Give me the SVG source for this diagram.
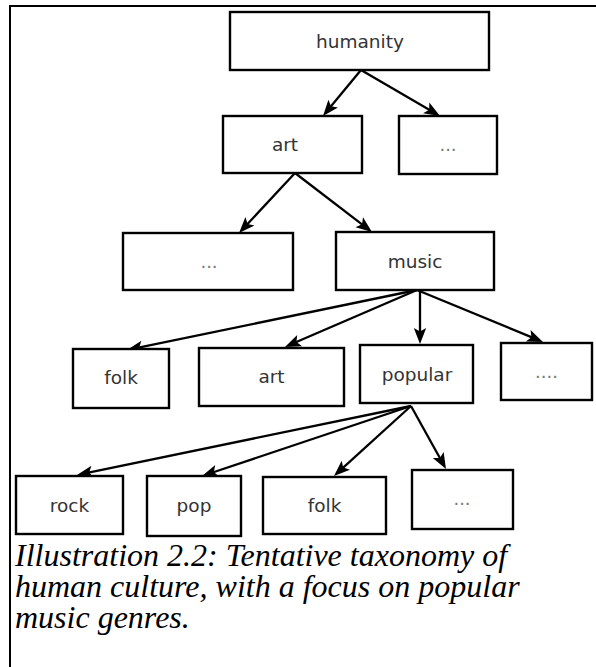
<svg xmlns="http://www.w3.org/2000/svg" width="596" height="667" viewBox="0 0 596 667">
<style>
.box{fill:#fff;stroke:#000;stroke-width:2.4}
.lbl{font-family:"DejaVu Sans",sans-serif;font-size:18.5px;fill:#333;text-anchor:middle}
.dots{font-family:"DejaVu Sans",sans-serif;font-size:18px;fill:#777;text-anchor:middle}
.edge{stroke:#000;stroke-width:2.3;fill:none;marker-end:url(#ah)}
.cap{font-family:"Liberation Serif","Times New Roman",serif;font-style:italic;font-size:32px;fill:#000}
</style>
<defs>
<marker id="ah" markerWidth="20" markerHeight="16" refX="8" refY="7" orient="auto" markerUnits="userSpaceOnUse" overflow="visible">
<path d="M16,7 L0,0.8 L3.5,7 L0,13.2 Z" fill="#000"/>
</marker>
</defs>
<rect width="596" height="667" fill="#fff"/>
<path d="M10,667 V6 H596" fill="none" stroke="#000" stroke-width="2"/>
<g id="connectors">
<line class="edge" x1="361" y1="70" x2="328.1" y2="109.8"/>
<line class="edge" x1="361" y1="70" x2="433.1" y2="112"/>
<line class="edge" x1="295" y1="173" x2="244.5" y2="227.2"/>
<line class="edge" x1="295" y1="173" x2="365.6" y2="227.1"/>
<line class="edge" x1="417" y1="290" x2="134.8" y2="348.4"/>
<line class="edge" x1="417" y1="290" x2="292.3" y2="343.8"/>
<line class="edge" x1="420" y1="290" x2="420" y2="336"/>
<line class="edge" x1="417" y1="290" x2="535.6" y2="338.9"/>
<line class="edge" x1="411" y1="406" x2="84.8" y2="473.4"/>
<line class="edge" x1="411" y1="406" x2="209.6" y2="473.5"/>
<line class="edge" x1="411" y1="406" x2="339.9" y2="470.6"/>
<line class="edge" x1="411" y1="406" x2="442.1" y2="462"/>
</g>
<g id="humanity"><rect class="box" x="230" y="12" width="259" height="58"/><text class="lbl" x="360" y="47.5">humanity</text></g>
<g id="art"><rect class="box" x="223" y="116" width="139" height="57"/><text class="lbl" x="285" y="151">art</text></g>
<g id="other1"><rect class="box" x="399" y="116" width="98" height="58"/><text class="dots" x="448" y="151">...</text></g>
<g id="other2"><rect class="box" x="123" y="233" width="170" height="57"/><text class="dots" x="209" y="268">...</text></g>
<g id="music"><rect class="box" x="336" y="232" width="158" height="58"/><text class="lbl" x="415" y="267.5">music</text></g>
<g id="folk"><rect class="box" x="73" y="349" width="96" height="59"/><text class="lbl" x="121" y="384">folk</text></g>
<g id="artmusic"><rect class="box" x="199" y="348" width="145" height="58"/><text class="lbl" x="271.5" y="383">art</text></g>
<g id="popular"><rect class="box" x="360" y="345" width="113" height="58"/><text class="lbl" x="417" y="381">popular</text></g>
<g id="other3"><rect class="box" x="501" y="343" width="91" height="57"/><text class="dots" x="546.5" y="378">....</text></g>
<g id="rock"><rect class="box" x="16" y="476" width="107" height="58"/><text class="lbl" x="69.5" y="512">rock</text></g>
<g id="pop"><rect class="box" x="147" y="476" width="94" height="60"/><text class="lbl" x="194" y="512">pop</text></g>
<g id="folkpop"><rect class="box" x="263" y="477" width="123" height="57"/><text class="lbl" x="324.5" y="512">folk</text></g>
<g id="other4"><rect class="box" x="412" y="470" width="101" height="59"/><text class="dots" x="462" y="505">...</text></g>
<g id="caption">
<text class="cap" x="15" y="566">Illustration 2.2: Tentative taxonomy of</text>
<text class="cap" x="15" y="597">human culture, with a focus on popular</text>
<text class="cap" x="15" y="628">music genres.</text>
</g>
</svg>
